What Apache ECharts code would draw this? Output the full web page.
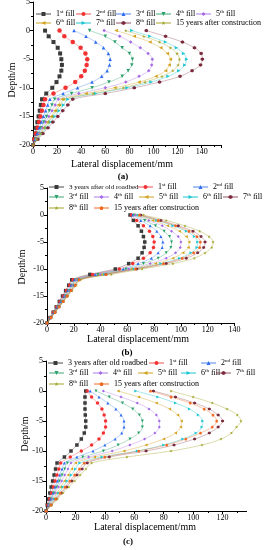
<!DOCTYPE html>
<html><head><meta charset="utf-8">
<script src="https://cdn.jsdelivr.net/npm/echarts@6/dist/echarts.min.js"></script>
<style>html,body{margin:0;padding:0;background:#fff}#c{width:267px;height:550px}</style>
</head><body><div id="c"></div>
<script>
// ---------- data ----------
const depths = [0,-1,-2,-3,-4,-5,-6,-7,-8,-9,-10,-11,-12,-13,-14,-15,-16,-17,-18,-19,-20];

const namesA = ['1st fill','2nd fill','3rd fill','4th fill','5th fill','6th fill','7th fill','8th fill','15 years after construction'];
const namesBC = ['3 years after old roadbed','1st fill','2nd fill','3rd fill','4th fill','5th fill','6th fill','7th fill','8th fill','15 years after construction'];

// (a)
const a_fill1 = [10,13,17,20.5,22.5,23.5,24,23.5,22,19.5,16,11,7.5,6.5,5.6,4.6,3.6,2.6,1.8,0.9,0];
const a_fill2 = [22,26,33,39.5,43.5,45,44.5,43,40,35,27,17,10,8.7,7.4,6.2,5,3.8,2.5,1.2,0];
const a_fill3 = [34,44,52,58.5,62.5,64,63.5,61.5,57,49,37,25,14,12.2,10.5,8.7,7,5.2,3.5,1.7,0];
const a_fill4 = [47,60,68,74,80,82.5,82,79,74,63,49,32,18,15.7,13.5,11.2,9,6.7,4.5,2.2,0];
const a_fill5 = [59,72,81,89,95.5,99,98.5,96,88,77,60,38,21,18.4,15.7,13.1,10.5,7.9,5.2,2.6,0];
const a_fill6 = [69,84,97,106,111.5,114,113,110,102,88,68,44,24,21,18,15,12,9,6,3,0];
const a_fill7 = [82,97,110,119,125,127.5,126,121,112,98,78,52,29,25.4,21.7,18.1,14.5,10.9,7.2,3.6,0];
const a_fill8 = [94,110,124,134,139.5,140.5,139,132,122,105,84,60,33,28.9,24.7,20.6,16.5,12.4,8.2,4.1,0];
const a_15y   = [77,92,105,114,119.5,121.5,120.5,116,107,93,75,50,26,22.7,19.5,16.2,13,9.7,6.5,3.2,0];

// (b)
const b_old   = [62,64.5,68,70.5,72,73,72.5,71,68,61,51,32,18.5,16.2,13.9,11.6,9.2,6.9,4.6,2.3,0];
const b_fill1 = [63,67,72,76.5,79,80,79.5,77,72,64,54,34,19.5,17,14.6,12.2,9.7,7.3,4.9,2.4,0];
const b_fill2 = [64,70,77,82,85,86.5,86,83,78,68,57,36,20.5,17.9,15.4,12.8,10.2,7.7,5.1,2.6,0];
const b_fill3 = [65,73,81,87.5,91.5,93,92.5,89,83,72,59,38,21.5,18.8,16.1,13.4,10.7,8,5.4,2.7,0];
const b_fill4 = [66,76,86,93,98,100,99.5,96,89,77,61,40,22,19.2,16.5,13.7,11,8.2,5.5,2.7,0];
const b_fill5 = [67,79,90,99,104,106,105.5,101.5,94,81,63,41,22.5,19.7,16.9,14,11.2,8.4,5.6,2.8,0];
const b_fill6 = [68,82,94,104,110,112.5,112,107.5,99,85,65,43,23.5,20.5,17.6,14.7,11.7,8.8,5.9,2.9,0];
const b_fill7 = [70,85,98,109,115,118,117,112.5,104,89,67,44,24,21,18,15,12,9,6,3,0];
const b_fill8 = [72,89,103,114,121,124,123,118,110,94,71,48,25,21.9,18.7,15.6,12.5,9.4,6.2,3.1,0];
const b_15y   = [69,83,96,106,112,114.5,114,109.5,101,87,66,44,24,21,18,15,12,9,6,3,0];

// (c)
const c_old   = [27,26.5,26.5,26.5,26.7,27,27,26,24,21,17,12.5,7.5,6.5,5.5,4.5,3.5,2.6,1.7,0.8,0];
const c_fill1 = [28,31,35,38,39.5,40.5,40.5,39,36,31,24,16.5,10,8.7,7.5,6.2,5,3.7,2.5,1.2,0];
const c_fill2 = [30,36,42,47.5,51,53,53,51.5,47,40,32,21,12.5,10.9,9.4,7.8,6.2,4.7,3.1,1.6,0];
const c_fill3 = [34,43,52,59,63.5,65.5,65.5,63,57,49,39,25,14.5,12.7,10.9,9.1,7.3,5.4,3.6,1.8,0];
const c_fill4 = [39,51,62,70,75,77,77,74,67,57,45,29,17,14.9,12.7,10.6,8.5,6.4,4.2,2.1,0];
const c_fill5 = [49,63,75,84,89.5,92,91.5,88,80,68,53,33,20,17.5,15,12.5,10,7.5,5,2.5,0];
const c_fill6 = [61,76,88,97.5,103.5,106.5,106,102,93,80,62,38,23,20.1,17.2,14.4,11.5,8.6,5.7,2.9,0];
const c_fill7 = [73,88,101,111,117,120,117,111,101,87,68,43,28,24.5,21,17.5,14,10.5,7,3.5,0];
const c_fill8 = [85,100,113,123,130,132.5,129.5,126,119,106,85,55,31,27.1,23.2,19.4,15.5,11.6,7.7,3.9,0];
const c_15y   = [71,85,98,107.5,113.5,116,113,105,95,82,63,40,26,22.7,19.5,16.2,13,9.7,6.5,3.2,0];

const seriesA = [a_fill1,a_fill2,a_fill3,a_fill4,a_fill5,a_fill6,a_fill7,a_fill8,a_15y];
const seriesB = [b_old,b_fill1,b_fill2,b_fill3,b_fill4,b_fill5,b_fill6,b_fill7,b_fill8,b_15y];
const seriesC = [c_old,c_fill1,c_fill2,c_fill3,c_fill4,c_fill5,c_fill6,c_fill7,c_fill8,c_15y];

// ---------- styles ----------
const FONT = '"Liberation Serif","Times New Roman",serif';
const SYM = {
  rect:'rect', circle:'circle', tri:'triangle', dia:'diamond',
  triD:'path://M0,0L10,0L5,9Z',
  triL:'path://M0,5L9,0L9,10Z',
  triR:'path://M0,0L9,5L0,10Z',
  hex:'path://M5,0L9.33,2.5L9.33,7.5L5,10L0.67,7.5L0.67,2.5Z',
  star:'path://M5,0L6.2,3.6L10,3.6L7,5.9L8.1,9.5L5,7.3L1.9,9.5L3,5.9L0,3.6L3.8,3.6Z',
  pent:'path://M5,0L10,3.8L8.1,10L1.9,10L0,3.8Z'
};
const C = {
  black:['#3a3a3a','rgba(90,90,90,0.55)'],
  red:['#f23232','rgba(242,60,60,0.45)'],
  blue:['#2f6cf0','rgba(60,120,240,0.45)'],
  green:['#2aa06a','rgba(40,160,100,0.45)'],
  purple:['#a46ae6','rgba(164,106,230,0.45)'],
  gold:['#d2a21e','rgba(210,162,30,0.5)'],
  cyan:['#1ec6d2','rgba(30,198,210,0.5)'],
  brown:['#7a2a3c','rgba(122,42,60,0.4)'],
  olive:['#a6a62c','rgba(166,166,44,0.5)'],
  orange:['#f06a22','rgba(240,106,34,0.5)']
};
const styleA = [
  ['black','rect',4],['red','circle',4.5],['blue','tri',3.5],['green','triD',3.5],['purple','dia',3.5],
  ['gold','triL',3.5],['cyan','triR',3.5],['brown','hex',3.5],['olive','star',3.5]
];
const styleBC = [
  ['black','rect',3.5],['red','circle',3.5],['blue','tri',3],['green','triD',3],['purple','dia',3],
  ['gold','triL',3],['cyan','triR',3],['brown','hex',3],['olive','star',3.2],['orange','pent',3]
];

const series = [];
function addSeries(prefix, names, arrs, styles, gi){
  arrs.forEach((arr,i)=>{
    const st = styles[i];
    series.push({
      name: prefix + ':' + names[i], type:'line', xAxisIndex:gi, yAxisIndex:gi,
      data: arr.map((v,k)=>[v, depths[k]]),
      smooth:0.35, symbol:SYM[st[1]], symbolSize:st[2], showSymbol:true,
      itemStyle:{color:C[st[0]][0]},
      lineStyle:{color:C[st[0]][1], width:0.8},
      emphasis:{disabled:true}, animation:false, clip:false, z: 2
    });
  });
}
addSeries('a', namesA, seriesA, styleA, 0);
addSeries('b', namesBC, seriesB, styleBC, 1);
addSeries('c', namesBC, seriesC, styleBC, 2);

// legend placement (icon left x, row center y, font size)
const legPosA = [[35,14,8],[75,14,8],[115,14,8],[155,14,8],[195,14,8],[35,23,8],[75,23,8],[115,23,8],[155,23,8]];
const legPosB = [[48,187,7],[137,187,8],[192,187,8],[48,197,8],[93,197,8],[138,197,8],[182,197,8],[222,197,8],[48,208,8],[93,208,8]];
const legPosC = [[47,363,8],[148,363,8],[200,363,8],[48,373,8],[92,373,8],[137,373,8],[180,373,8],[215,373,8],[48,384,8],[93,384,8]];

function fmt(name){
  const s = name.slice(2);
  return s.replace(/^(\d+)(st|nd|rd|th)/, '$1{s|$2}');
}
const legends = [];
function addLegends(prefix, names, pos){
  names.forEach((n,i)=>{
    legends.push({
      data:[prefix+':'+n], left:pos[i][0], top:pos[i][1]-5, padding:0,
      itemWidth:15, itemHeight:5, itemGap:0, selectedMode:false,
      formatter: fmt,
      textStyle:{fontFamily:FONT, fontSize:pos[i][2], color:'#000', lineHeight:10,
        rich:{s:{fontFamily:FONT, fontSize:5, lineHeight:6, verticalAlign:'top', color:'#000'}}}
    });
  });
}
addLegends('a', namesA, legPosA);
addLegends('b', namesBC, legPosB);
addLegends('c', namesBC, legPosC);

function xAxis(gi, max){
  return {gridIndex:gi, type:'value', min:0, max:max, interval:20,
    axisLine:{show:true, onZero:false, lineStyle:{color:'#000', width:1}},
    axisTick:{show:true, length:3, lineStyle:{color:'#000', width:1}},
    minorTick:{show:true, splitNumber:2, length:2, lineStyle:{color:'#000', width:1}},
    splitLine:{show:false}, minorSplitLine:{show:false},
    axisLabel:{fontFamily:FONT, fontSize:8, color:'#000', margin:3, showMaxLabel: max===140}
  };
}
function yAxis(gi){
  return {gridIndex:gi, type:'value', min:-20, max:5, interval:5,
    axisLine:{show:true, onZero:false, lineStyle:{color:'#000', width:1}},
    axisTick:{show:true, length:3, lineStyle:{color:'#000', width:1}},
    minorTick:{show:true, splitNumber:2, length:2, lineStyle:{color:'#000', width:1}},
    splitLine:{show:false}, minorSplitLine:{show:false},
    axisLabel:{fontFamily:FONT, fontSize:8, color:'#000', margin:3}
  };
}

function txt(text, x, y, size, bold, rot){
  return {type:'text', x:x, y:y, rotation: rot||0, z:100,
    style:{text:text, textAlign:'center', textVerticalAlign:'middle',
      font:(bold?'bold ':'')+size+'px '+FONT, fill:'#000'}};
}

const option = {
  backgroundColor:'#fff',
  animation:false,
  grid:[
    {left:33, top:2, width:188, height:143, outerBoundsMode:'none', containLabel:false},
    {left:47, top:188, width:187.5, height:135, outerBoundsMode:'none', containLabel:false},
    {left:46, top:361, width:206, height:150, outerBoundsMode:'none', containLabel:false}
  ],
  xAxis:[xAxis(0,156), xAxis(1,140), xAxis(2,140)],
  yAxis:[yAxis(0), yAxis(1), yAxis(2)],
  legend: legends,
  series: series,
  graphic:[
    {type:'rect', shape:{x:247, y:505, width:20, height:25}, style:{fill:'#fff'}, z:200},
    txt('Lateral displacement/mm', 122, 164, 10, false),
    txt('(a)', 123, 177, 9, true),
    txt('Depth/m', 12, 80, 10, false, Math.PI/2),
    txt('Lateral displacement/mm', 138, 339, 10, false),
    txt('(b)', 127, 353, 9, true),
    txt('Depth/m', 22, 267, 10, false, Math.PI/2),
    txt('Lateral displacement/mm', 145, 527, 10, false),
    txt('(c)', 128, 542, 9, true),
    txt('Depth/m', 25, 434, 10, false, Math.PI/2)
  ]
};
const chart = echarts.init(document.getElementById('c'), null, {renderer:'canvas'});
chart.setOption(option);
</script>
</body></html>
